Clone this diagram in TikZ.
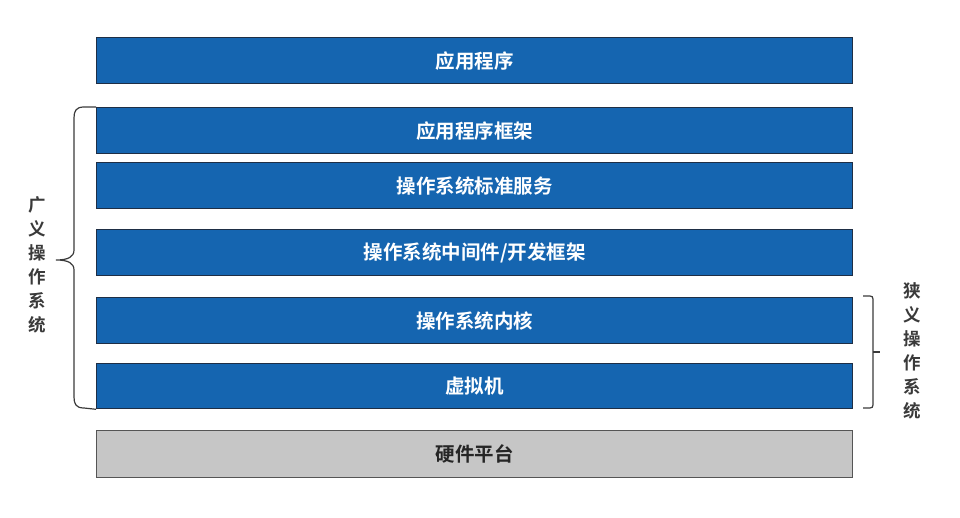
\documentclass[tikz,border=0pt]{standalone}
\usepackage{fontspec}
\setmainfont{Noto Sans CJK SC}
\newfontfamily\cjk{Noto Sans CJK SC}
\newfontfamily\cjkbold{Noto Sans CJK SC Bold}
\definecolor{layerblue}{HTML}{1565B0}
\definecolor{layeredge}{HTML}{1E2E45}
\definecolor{hwgray}{HTML}{C6C6C6}
\definecolor{hwedge}{HTML}{555555}
\definecolor{bracegray}{HTML}{3A3A3A}
\begin{document}
\begin{tikzpicture}[x=1pt,y=-1pt,
  layer/.style={draw=layeredge,line width=1.3pt,fill=layerblue,text=white,
    minimum width=756pt,anchor=north west,inner sep=0pt,
    font=\cjkbold\fontsize{19.5}{21}\selectfont},
  hw/.style={layer,draw=hwedge,fill=hwgray,text=black!85},
  vlabel/.style={text=bracegray,align=center,inner sep=0pt,
    font=\cjkbold\fontsize{17.5}{24}\selectfont},
  bracepath/.style={draw=bracegray,line width=1.2pt}]
\useasboundingbox (0,0) rectangle (960,518);
\node[layer,minimum height=46pt] (app) at (96,37) {应用程序};
\node[layer,minimum height=46pt] (fw) at (96,107) {应用程序框架};
\node[layer,minimum height=46pt] (svc) at (96,162) {操作系统标准服务};
\node[layer,minimum height=46pt] (mid) at (96,229) {操作系统中间件/开发框架};
\node[layer,minimum height=46pt] (kern) at (96,297) {操作系统内核};
\node[layer,minimum height=45pt] (vm) at (96,363) {虚拟机};
\node[hw,minimum height=47pt] (hwp) at (96,430) {硬件平台};
% left brace
\coordinate (lt) at (fw.north west);
\coordinate (lb) at (vm.south west);
\draw[bracepath] (lt) -- (84,107) .. controls (76,107) and (74,111) .. (74,118)
  -- (74,250) .. controls (74,257) and (68,260) .. (56,260)
  .. controls (68,260) and (74,263) .. (74,270)
  -- (74,397) .. controls (74,404) and (76,408) .. (84,408) -- (lb);
\node[vlabel] (broad) at (37,265) {广\\义\\操\\作\\系\\统};
% right bracket
\coordinate (rt) at (863,296);
\coordinate (rb) at (863,408);
\draw[bracepath] (rt) -- (870,296) .. controls (872,296) and (873,297) .. (873,299)
  -- (873,405) .. controls (873,407) and (872,408) .. (870,408) -- (rb);
\draw[bracepath] (873,352) -- (880,352);
\node[vlabel] (narrow) at (912,351) {狭\\义\\操\\作\\系\\统};
\end{tikzpicture}
\end{document}
